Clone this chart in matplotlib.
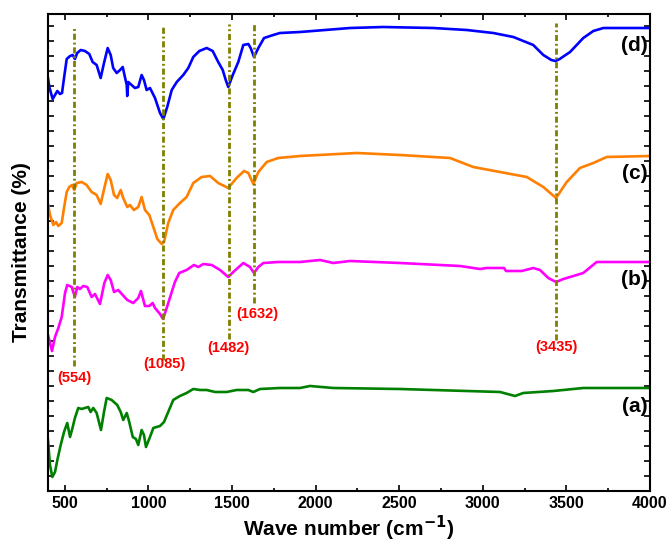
import matplotlib
matplotlib.use("Agg")
import matplotlib.pyplot as plt
import numpy as np
from matplotlib.ticker import MultipleLocator

plt.rcParams['font.family'] = ['Liberation Sans', 'DejaVu Sans']

# spectrum (d)
wn_d = [400, 408, 428, 442, 456, 472, 484, 496, 512, 532, 548, 561, 575, 596, 621, 647, 667, 691,
        715, 735, 757, 775, 790, 811, 831, 847, 860, 871, 874, 880, 900, 920, 940, 960, 974, 990,
        1010, 1040, 1070, 1090, 1113, 1140, 1170, 1209, 1239, 1269, 1305, 1349, 1385, 1418, 1445,
        1463, 1478, 1505, 1538, 1568, 1598, 1612, 1632, 1658, 1692, 1747, 1787, 1907, 2206, 2405,
        2704, 2904, 3063, 3183, 3302, 3362, 3410, 3435, 3460, 3522, 3601, 3661, 3721, 4000]
t_d = [413, 404, 392, 396, 400, 397, 398, 413, 432, 435, 436, 432, 438, 441, 440, 437, 429, 426,
       413, 428, 443, 436, 423, 418, 421, 424, 414, 406, 395, 409, 406, 403, 404, 416, 411, 401,
       403, 393, 378, 372, 384, 401, 409, 416, 423, 434, 440, 443, 440, 429, 421,
       411, 404, 416, 429, 446, 447, 443, 434, 443, 453, 456, 458, 459, 463, 464,
       463, 461, 458, 454, 446, 436, 431, 430, 432, 439, 453, 460, 463, 463]

# spectrum (c)
wn_c = [400, 412, 432, 448, 462, 482, 496, 512, 527, 544, 557, 572, 602, 631, 661, 691, 715, 737,
        757, 775, 795, 814, 835, 850, 874, 890, 914, 940, 960, 980, 1006, 1030, 1054, 1080, 1094,
        1119, 1149, 1189, 1229, 1269, 1319, 1369, 1418, 1478, 1528, 1572, 1598, 1628, 1658, 1708,
        1777, 1907, 2246, 2505, 2804, 2943, 3103, 3263, 3362, 3438, 3502, 3581, 3661, 3741, 4000]
t_c = [287, 276, 266, 269, 265, 268, 283, 299, 304, 306, 301, 308, 309, 306, 299, 296, 287, 303,
       317, 311, 296, 293, 301, 293, 284, 286, 281, 284, 294, 281, 276, 264, 252, 247, 249,
       268, 281, 288, 294, 308, 314, 315, 308, 303, 313, 320, 318, 307, 319, 329,
       333, 335, 338, 336, 333, 324, 319, 314, 304, 293, 309, 323, 328, 334, 335]

# spectrum (b)
wn_b = [400, 412, 424, 442, 462, 482, 502, 515, 542, 561, 575, 591, 611, 635, 661, 681, 711, 737,
        757, 775, 795, 820, 847, 874, 910, 940, 956, 980, 1006, 1026, 1040, 1070, 1088, 1110, 1140,
        1159, 1185, 1229, 1273, 1299, 1329, 1379, 1429, 1478, 1508, 1568, 1608, 1632, 1658, 1688,
        1777, 1907, 2027, 2106, 2206, 2505, 2864, 2983, 3023, 3127, 3139, 3233, 3302, 3342, 3392,
        3438, 3482, 3522, 3601, 3681, 4000]
t_b = [156, 148, 140, 154, 163, 174, 198, 206, 204, 194, 204, 202, 205, 204, 194, 197, 187, 208,
       216, 211, 199, 201, 196, 191, 188, 193, 200, 185, 185, 188, 183, 177, 172, 183, 199,
       209, 218, 221, 226, 224, 227, 226, 221, 214, 219, 228, 224, 218, 224, 228,
       229, 229, 231, 228, 230, 228, 225, 222, 223, 223, 220, 220, 223, 221, 213,
       209, 212, 214, 218, 229, 229]

# spectrum (a)
wn_a = [400, 412, 426, 442, 456, 476, 496, 515, 532, 548, 561, 581, 602, 621, 641, 655, 671, 691,
        717, 735, 751, 781, 814, 835, 850, 871, 886, 907, 926, 940, 960, 974, 986, 1010, 1030,
        1070, 1094, 1119, 1149, 1189, 1229, 1269, 1309, 1349, 1399, 1469, 1528, 1598, 1628, 1668,
        1787, 1907, 1967, 2106, 2505, 2904, 3103, 3193, 3242, 3422, 3601, 4000]
t_a = [51, 26, 14, 19, 31, 46, 59, 68, 54, 64, 73, 83, 82, 83, 84, 79, 83, 78,
       61, 79, 93, 91, 86, 79, 71, 78, 69, 54, 52, 46, 61, 56, 44, 54, 63,
       65, 69, 79, 91, 95, 98, 102, 101, 101, 99, 99, 101, 101, 99, 102,
       103, 103, 105, 103, 102, 100, 99, 95, 98, 100, 103, 103]

peaks = [554, 1085, 1482, 1632, 3435]
peak_top = [464, 464, 467, 468, 468]
peak_bottom = [125, 131, 152, 188, 151]
peak_labels = ['(554)', '(1085)', '(1482)', '(1632)', '(3435)']
label_x = [560, 1094, 1478, 1650, 3440]
label_y = [113, 127, 143, 177, 144]

series = [(wn_a, t_a, '#008000', '(a)', 407),
          (wn_b, t_b, '#ff00ff', '(b)', 280),
          (wn_c, t_c, '#ff7f00', '(c)', 173),
          (wn_d, t_d, '#0000ff', '(d)', 45)]

fig = plt.figure(figsize=(6.71, 5.45), dpi=100)
ax = fig.add_axes([0.0715, 0.0991, 0.8972, 0.8752])

for wn, t, col, lab, ly in series:
    ax.plot(wn, t, color=col, lw=1.9)
    ax.text(3985, 491 - ly, lab, fontsize=15, fontweight='bold', ha='right', va='center')

# dash-dot guide lines at the band positions
for p, top, bot in zip(peaks, peak_top, peak_bottom):
    ax.plot([p, p], [bot, top], color='#808000', lw=2, linestyle=(0, (2.2, 1, 0.7, 1)))

for lx, ly, lab in zip(label_x, label_y, peak_labels):
    ax.text(lx, ly, lab, color='#ff0000', fontsize=10.5, fontweight='bold', ha='center', va='center')

ax.set_xlim(400, 4000)
ax.set_ylim(0, 477)
ax.xaxis.set_major_locator(MultipleLocator(500))
ax.xaxis.set_minor_locator(MultipleLocator(250))
ax.yaxis.set_major_locator(MultipleLocator(15))
ax.set_yticklabels([])
ax.tick_params(axis='both', which='both', direction='in', top=True, right=True, width=1.2)
ax.tick_params(axis='both', which='major', length=4)
ax.tick_params(axis='x', which='minor', length=2.5)
for lbl in ax.get_xticklabels():
    lbl.set_fontweight('bold')
    lbl.set_fontsize(11.5)
for s in ax.spines.values():
    s.set_linewidth(1.5)

ax.set_xlabel('Wave number (cm$^{\\mathbf{-1}}$)', fontsize=15, fontweight='bold', labelpad=2)
ax.set_ylabel('Transmittance (%)', fontsize=15, fontweight='bold', labelpad=9)

fig.savefig('out.png', dpi=100)
